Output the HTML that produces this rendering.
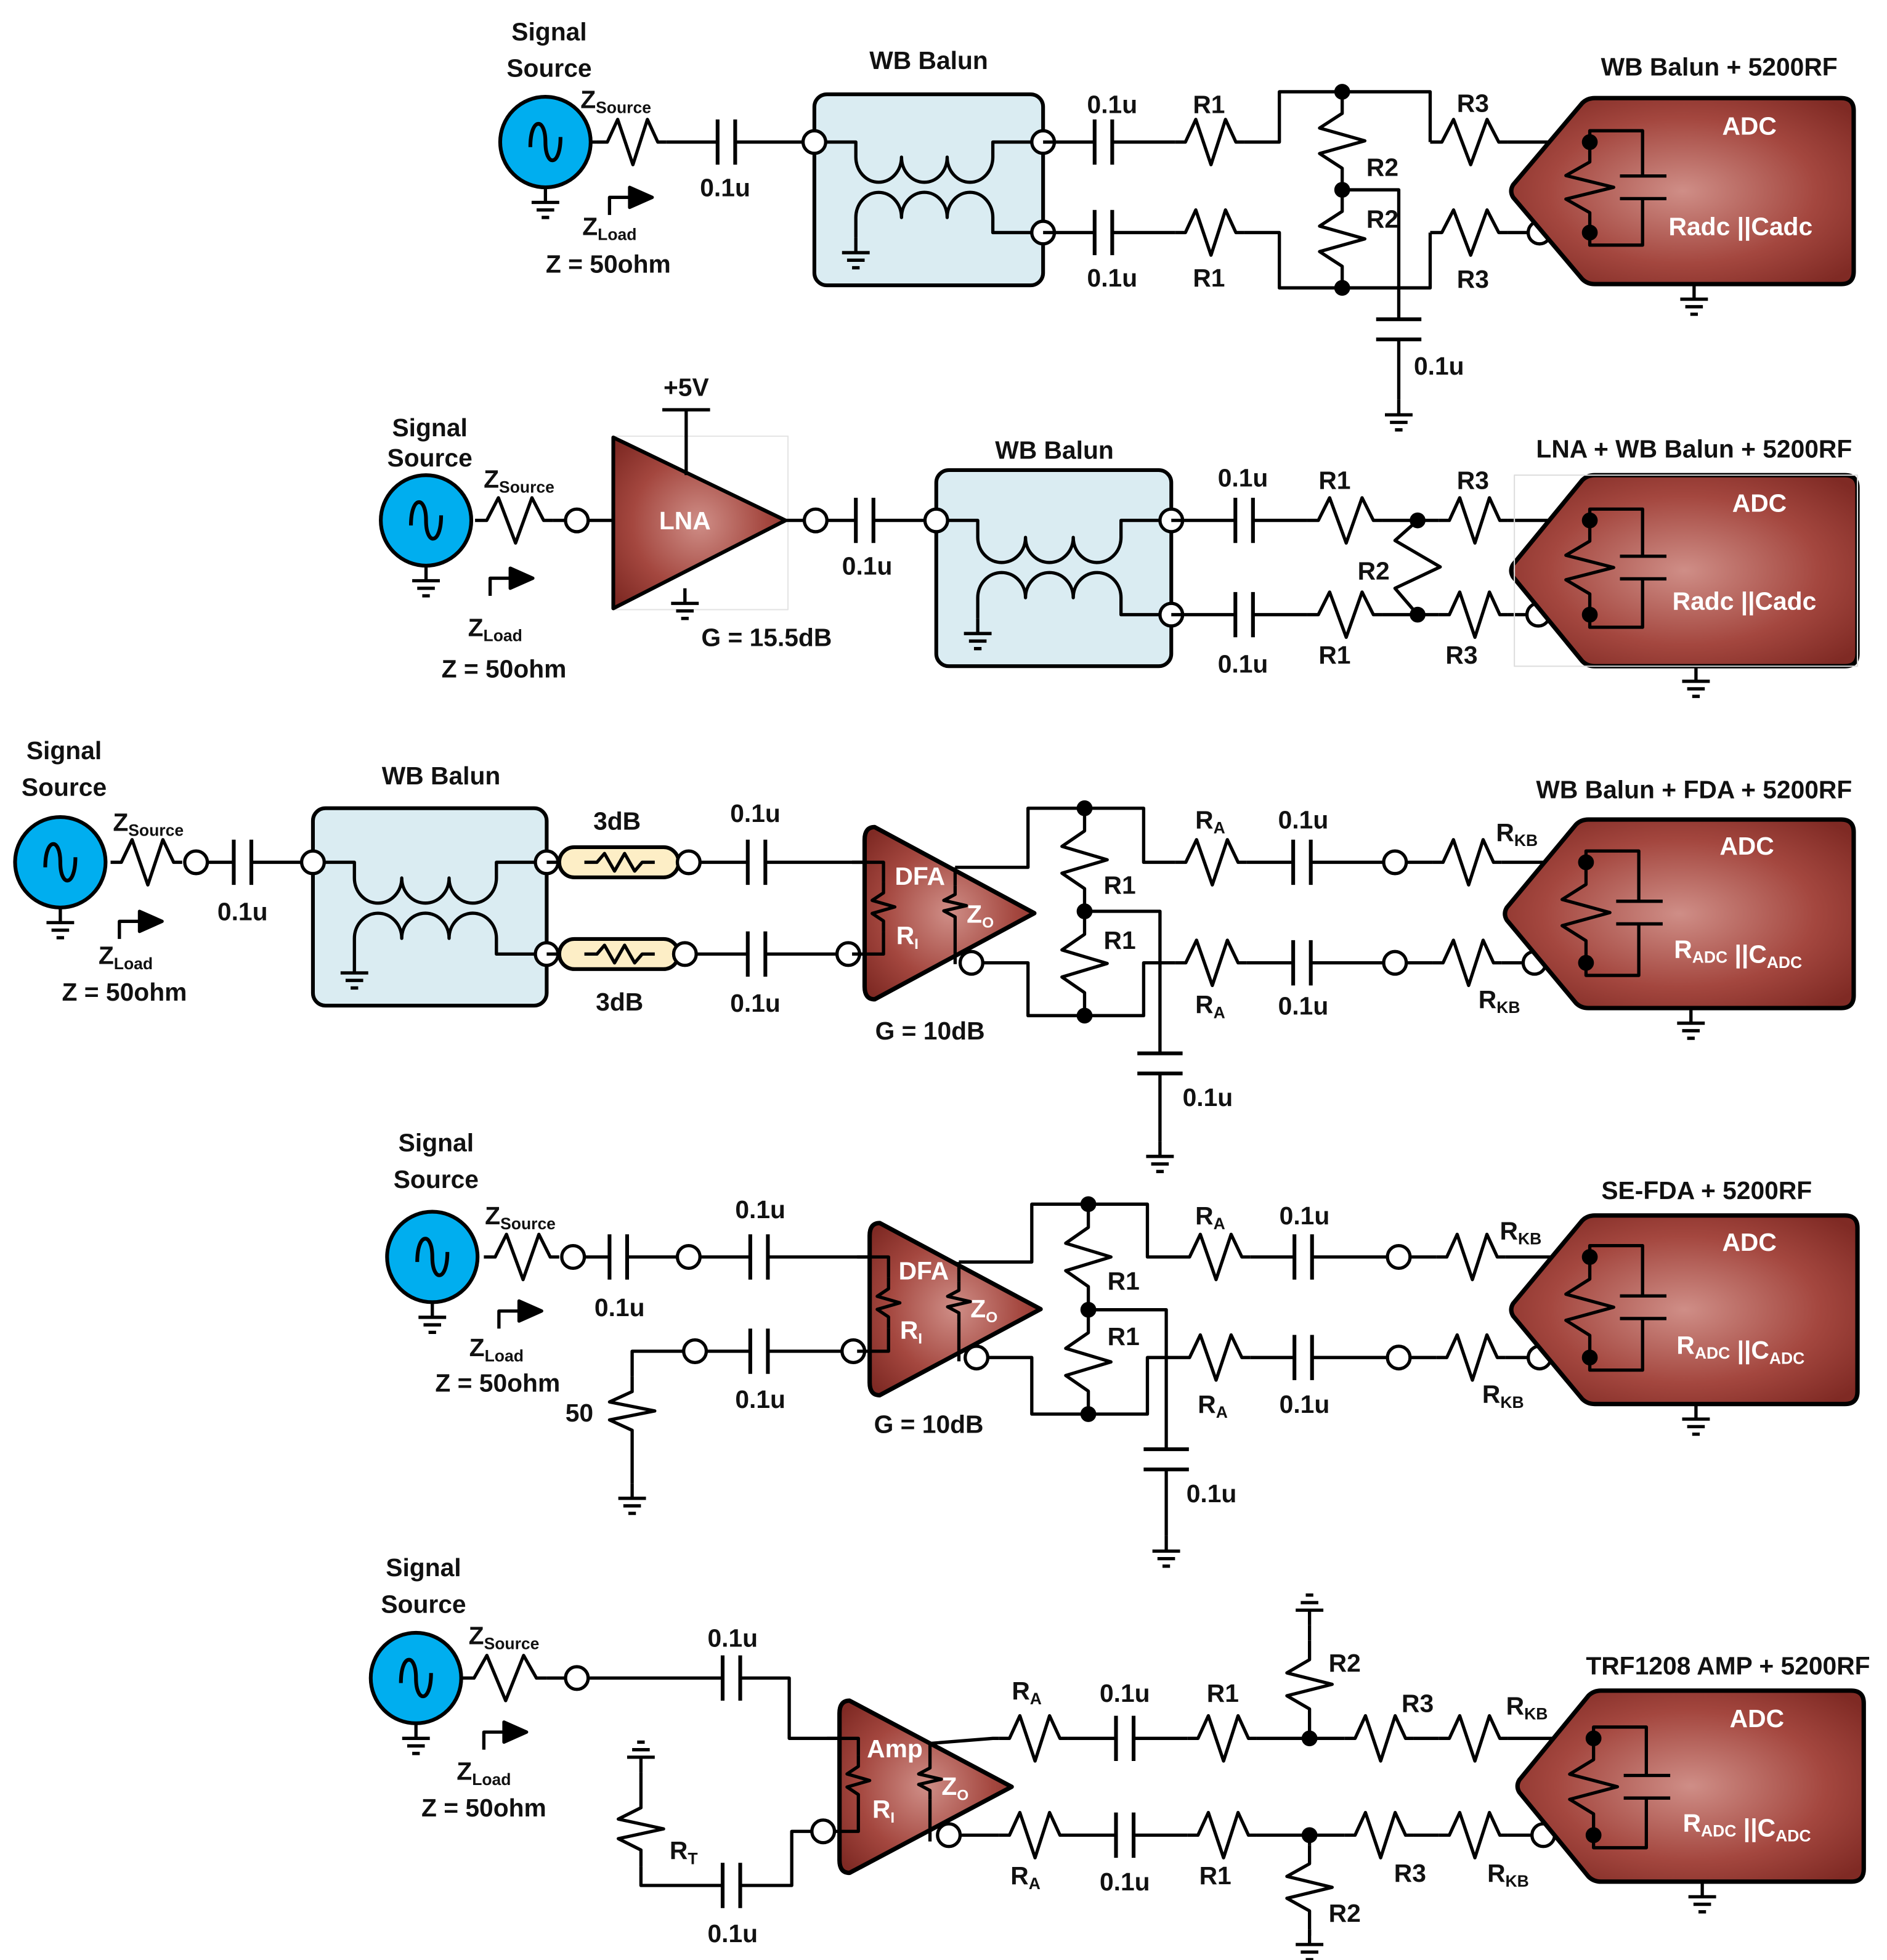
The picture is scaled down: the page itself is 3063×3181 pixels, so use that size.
<!DOCTYPE html>
<html><head><meta charset="utf-8"><style>
html,body{margin:0;padding:0;background:#fff;}
svg{display:block;}
text{font-family:"Liberation Sans",sans-serif;font-weight:bold;font-size:20px;text-anchor:middle;fill:#111;}
text.w{fill:#fff;}
</style></head><body>
<svg id="s" xmlns="http://www.w3.org/2000/svg" width="3063" height="3181" viewBox="0 0 1501.5 1559.3">
<defs>
<radialGradient id="rg" cx="50%" cy="50%" r="65%">
<stop offset="0" stop-color="#cf8e87"/><stop offset="0.6" stop-color="#a4473f"/><stop offset="1" stop-color="#7f2a24"/>
</radialGradient>
</defs>
<g id="g" fill="none" stroke="#000" stroke-width="2.6" stroke-linejoin="round"></g>
<g id="tx">
<!-- Row1 -->
<text x="437" y="32">Signal</text><text x="437" y="61">Source</text>
<text x="490" y="86">Z<tspan font-size="13" dy="4">Source</tspan></text>
<text x="577" y="156">0.1u</text>
<text x="739" y="55">WB Balun</text>
<text x="885" y="90">0.1u</text><text x="885" y="228">0.1u</text>
<text x="962" y="90">R1</text><text x="962" y="228">R1</text>
<text x="1100" y="140">R2</text><text x="1100" y="181">R2</text>
<text x="1172" y="89">R3</text><text x="1172" y="229">R3</text>
<text x="1145" y="298">0.1u</text>
<text x="1368" y="60">WB Balun + 5200RF</text>
<text class="w" x="1392" y="107">ADC</text>
<text class="w" x="1385" y="187">Radc ||Cadc</text>
<text x="485" y="187">Z<tspan font-size="13" dy="4">Load</tspan></text>
<text x="484" y="217">Z = 50ohm</text>
<!-- Row2 -->
<text x="342" y="347">Signal</text><text x="342" y="371">Source</text>
<text x="413" y="388">Z<tspan font-size="13" dy="4">Source</tspan></text>
<text x="546" y="315">+5V</text>
<text class="w" x="545" y="421" font-size="17">LNA</text>
<text x="610" y="514">G = 15.5dB</text>
<text x="690" y="457">0.1u</text>
<text x="839" y="365">WB Balun</text>
<text x="989" y="387">0.1u</text><text x="989" y="535">0.1u</text>
<text x="1062" y="389">R1</text><text x="1062" y="528">R1</text>
<text x="1093" y="461">R2</text>
<text x="1172" y="389">R3</text><text x="1163" y="528">R3</text>
<text x="1348" y="364">LNA + WB Balun + 5200RF</text>
<text class="w" x="1400" y="407">ADC</text>
<text class="w" x="1388" y="485">Radc ||Cadc</text>
<text x="394" y="506">Z<tspan font-size="13" dy="4">Load</tspan></text>
<text x="401" y="539">Z = 50ohm</text>
<!-- Row3 -->
<text x="51" y="604">Signal</text><text x="51" y="633">Source</text>
<text x="118" y="661">Z<tspan font-size="13" dy="4">Source</tspan></text>
<text x="193" y="732">0.1u</text>
<text x="351" y="624">WB Balun</text>
<text x="491" y="660">3dB</text><text x="493" y="804">3dB</text>
<text x="601" y="654">0.1u</text><text x="601" y="805">0.1u</text>
<text class="w" x="732" y="704" font-size="17">DFA</text>
<text class="w" x="780" y="734" font-size="17">Z<tspan font-size="12" dy="4">O</tspan></text>
<text class="w" x="722" y="751" font-size="17">R<tspan font-size="12" dy="4">I</tspan></text>
<text x="740" y="827">G = 10dB</text>
<text x="891" y="711">R1</text><text x="891" y="755">R1</text>
<text x="961" y="880">0.1u</text>
<text x="963" y="659">R<tspan font-size="13" dy="4">A</tspan></text>
<text x="963" y="806">R<tspan font-size="13" dy="4">A</tspan></text>
<text x="1037" y="659">0.1u</text><text x="1037" y="807">0.1u</text>
<text x="1207" y="669">R<tspan font-size="13" dy="4">KB</tspan></text>
<text x="1193" y="802">R<tspan font-size="13" dy="4">KB</tspan></text>
<text x="1348" y="635">WB Balun + FDA + 5200RF</text>
<text class="w" x="1390" y="680">ADC</text>
<text class="w" x="1383" y="762">R<tspan font-size="13" dy="4">ADC</tspan> ||C<tspan font-size="13" dy="4">ADC</tspan></text>
<text x="100" y="767">Z<tspan font-size="13" dy="4">Load</tspan></text>
<text x="99" y="796">Z = 50ohm</text>
<!-- Row4 -->
<text x="347" y="916">Signal</text><text x="347" y="945">Source</text>
<text x="414" y="974">Z<tspan font-size="13" dy="4">Source</tspan></text>
<text x="493" y="1047">0.1u</text>
<text x="605" y="969">0.1u</text><text x="605" y="1120">0.1u</text>
<text x="461" y="1131">50</text>
<text class="w" x="735" y="1018" font-size="17">DFA</text>
<text class="w" x="783" y="1048" font-size="17">Z<tspan font-size="12" dy="4">O</tspan></text>
<text class="w" x="725" y="1065" font-size="17">R<tspan font-size="12" dy="4">I</tspan></text>
<text x="739" y="1140">G = 10dB</text>
<text x="894" y="1026">R1</text><text x="894" y="1070">R1</text>
<text x="964" y="1195">0.1u</text>
<text x="963" y="974">R<tspan font-size="13" dy="4">A</tspan></text>
<text x="965" y="1124">R<tspan font-size="13" dy="4">A</tspan></text>
<text x="1038" y="974">0.1u</text><text x="1038" y="1124">0.1u</text>
<text x="1210" y="986">R<tspan font-size="13" dy="4">KB</tspan></text>
<text x="1196" y="1116">R<tspan font-size="13" dy="4">KB</tspan></text>
<text x="1358" y="954">SE-FDA + 5200RF</text>
<text class="w" x="1392" y="995">ADC</text>
<text class="w" x="1385" y="1077">R<tspan font-size="13" dy="4">ADC</tspan> ||C<tspan font-size="13" dy="4">ADC</tspan></text>
<text x="395" y="1079">Z<tspan font-size="13" dy="4">Load</tspan></text>
<text x="396" y="1107">Z = 50ohm</text>
<!-- Row5 -->
<text x="337" y="1254">Signal</text><text x="337" y="1283">Source</text>
<text x="401" y="1308">Z<tspan font-size="13" dy="4">Source</tspan></text>
<text x="583" y="1310">0.1u</text><text x="583" y="1545">0.1u</text>
<text class="w" x="712" y="1398" font-size="17">Amp</text>
<text class="w" x="760" y="1428" font-size="17">Z<tspan font-size="12" dy="4">O</tspan></text>
<text class="w" x="703" y="1446" font-size="17">R<tspan font-size="12" dy="4">I</tspan></text>
<text x="544" y="1479">R<tspan font-size="13" dy="4">T</tspan></text>
<text x="817" y="1352">R<tspan font-size="13" dy="4">A</tspan></text>
<text x="816" y="1499">R<tspan font-size="13" dy="4">A</tspan></text>
<text x="895" y="1354">0.1u</text><text x="895" y="1504">0.1u</text>
<text x="973" y="1354">R1</text><text x="967" y="1499">R1</text>
<text x="1070" y="1330">R2</text><text x="1070" y="1529">R2</text>
<text x="1128" y="1362">R3</text><text x="1122" y="1497">R3</text>
<text x="1215" y="1364">R<tspan font-size="13" dy="4">KB</tspan></text>
<text x="1200" y="1497">R<tspan font-size="13" dy="4">KB</tspan></text>
<text x="1375" y="1332">TRF1208 AMP + 5200RF</text>
<text class="w" x="1398" y="1374">ADC</text>
<text class="w" x="1390" y="1457">R<tspan font-size="13" dy="4">ADC</tspan> ||C<tspan font-size="13" dy="4">ADC</tspan></text>
<text x="385" y="1416">Z<tspan font-size="13" dy="4">Load</tspan></text>
<text x="385" y="1445">Z = 50ohm</text>
</g>
</svg>
<script>
const NS="http://www.w3.org/2000/svg",G=document.getElementById('g'),S=document.getElementById('s'),TX=document.getElementById('tx');
function el(t,a,p){const e=document.createElementNS(NS,t);for(const k in a)e.setAttribute(k,a[k]);(p||G).appendChild(e);return e;}
function P(d,extra){return el('path',Object.assign({d:d},extra||{}));}
function W(...pts){let d='M'+pts[0][0]+','+pts[0][1];for(let i=1;i<pts.length;i++)d+=' L'+pts[i][0]+','+pts[i][1];P(d);}
const HP=[[0,0],[0.15,0],[0.3,-1],[0.52,1],[0.73,-1],[0.88,0],[1,0]];
const VP=[[0,0],[0,0.22],[-1,0.37],[1,0.5],[-1,0.63],[0,0.78],[0,1]];
function rH(x1,x2,y,a){a=a||18;const w=x2-x1;P('M'+HP.map(p=>`${x1+w*p[0]},${y+a*p[1]}`).join(' L'));}
function rV(x,y1,y2,a){a=a||18;const h=y2-y1;P('M'+VP.map(p=>`${x+a*p[0]},${y1+h*p[1]}`).join(' L'));}
function cH(x,y){P(`M${x-7},${y-18} V${y+18} M${x+7},${y-18} V${y+18}`,{'stroke-width':3});}
function cV(x,y){P(`M${x-18},${y-8} H${x+18} M${x-18},${y+8} H${x+18}`,{'stroke-width':3});}
function nd(x,y){el('circle',{cx:x,cy:y,r:9,fill:'#fff'});}
function dt(x,y){el('circle',{cx:x,cy:y,r:5,fill:'#000'});}
function gnd(x,y){P(`M${x},${y} V${y+12} M${x-11},${y+12} H${x+11} M${x-7},${y+18} H${x+7} M${x-3},${y+24} H${x+3}`);}
function gndU(x,y){P(`M${x},${y} V${y-12} M${x-11},${y-12} H${x+11} M${x-7},${y-18} H${x+7} M${x-3},${y-24} H${x+3}`);}
function src(x,y){el('circle',{cx:x,cy:y,r:36,fill:'#00aeef','stroke-width':3});
 P(`M${x-12},${y+4} C${x-12},${y-20} ${x},${y-20} ${x},${y} C${x},${y+20} ${x+12},${y+20} ${x+12},${y-4}`,{'stroke-width':3});
 gnd(x,y+36);}
function zl(x,y){P(`M${x},${y+14} V${y} H${x+18}`);el('path',{d:`M${x+16},${y-8} L${x+34},${y} L${x+16},${y+8} Z`,fill:'#000'});}
function balun(x,y,w,h,yT,yB){el('rect',{x:x,y:y,width:w,height:h,rx:10,fill:'#daecf2','stroke-width':3});
 const m=(yT+yB)/2,L=x+33,R=x+w-40,hw=(R-L)/6,a=m-24,b=m+24;
 P(`M${x},${yT} H${L} V${a} a${hw},20 0 0 0 ${2*hw},0 a${hw},20 0 0 0 ${2*hw},0 a${hw},20 0 0 0 ${2*hw},0 V${yT} H${x+w}`);
 P(`M${x+w},${yB} H${R} V${b} a${hw},20 0 0 0 ${-2*hw},0 a${hw},20 0 0 0 ${-2*hw},0 a${hw},20 0 0 0 ${-2*hw},0 V${y+h-38}`);
 gnd(L,y+h-38);nd(x,yT);nd(x+w,yT);nd(x+w,yB);}
function adc(tx,yt,yb,xr,il,y1,y2){const m=(yt+yb)/2;tx-=4;
 el('path',{d:`M${tx+3},${m-5} L${tx+58},${yt+4} Q${tx+62},${yt} ${tx+68},${yt} H${xr-10} Q${xr},${yt} ${xr},${yt+10} V${yb-10} Q${xr},${yb} ${xr-10},${yb} H${tx+68} Q${tx+62},${yb} ${tx+58},${yb-4} L${tx+3},${m+5} Q${tx},${m} ${tx+3},${m-5} Z`,fill:'url(#rg)','stroke-width':3.5},G);
 const cy=(y1+y2)/2;rV(il,y1,y2,19);
 P(`M${il},${y1} V${y1-9} H${il+42} V${cy-9} M${il+24},${cy-9} H${il+61} M${il+24},${cy+9} H${il+61} M${il+42},${cy+9} V${y2+10} H${il} V${y2}`,{});
 dt(il,y1);dt(il,y2);gnd((tx+xr)/2+10,yb);}
function amp(x,yt,yb,xt,rx1,rx2,y1,y2){const m=(yt+yb)/2;
 el('path',{d:`M${x+8},${yt} L${xt},${m} L${x+8},${yb} Q${x},${yb} ${x},${yb-10} V${yt+10} Q${x},${yt} ${x+8},${yt} Z`,fill:'url(#rg)','stroke-width':3.5});
 if(rx1){P(`M${x-10},${y1} H${rx1} V${m-25}`);rV(rx1,m-25,m+15,9);P(`M${rx1},${m+15} V${y2} H${x-10}`);
 P(`M${rx2},${y1+4} V${m-22}`);rV(rx2,m-22,m+10,9);P(`M${rx2},${m+10} V${y2+8}`);}}
// ---- Row 1
src(434,113);W([470,113],[475,113]);rH(475,530,113);W([530,113],[571,113]);cH(578,113);W([585,113],[648,113]);
balun(648,75,182,152,113,185);
W([830,113],[871,113]);cH(878,113);W([885,113],[935,113]);rH(935,990,113);W([990,113],[1018,113],[1018,73],[1138,73],[1138,113]);rH(1138,1200,113);W([1200,113],[1265,113]);
W([830,185],[871,185]);cH(878,185);W([885,185],[935,185]);rH(935,990,185);W([990,185],[1018,185],[1018,229],[1138,229],[1138,185]);rH(1138,1200,185);W([1200,185],[1265,185]);
rV(1068,73,151);rV(1068,151,229);dt(1068,73);dt(1068,229);dt(1068,151);
W([1068,151],[1113,151],[1113,254]);cV(1113,262);W([1113,270],[1113,318]);gnd(1113,318);
nd(1225,185);adc(1205,78,226,1475,1265,113,185);
zl(485,157);
// ---- Row 2
src(339,414);rH(378,440,414);W([440,414],[450,414]);nd(459,414);W([468,414],[488,414]);
el('rect',{x:488,y:347,width:139,height:138,fill:'none',stroke:'#e4e4e4','stroke-width':1});
el('path',{d:`M488,348 L625,414 L488,484 Z`,fill:'url(#rg)','stroke-width':3});
P('M527,326 H565 M546,326 V378');gnd(545,468);
W([625,414],[649,414]);nd(649,414);W([658,414],[681,414]);cH(688,414);W([695,414],[745,414]);
balun(745,374,187,156,414,489);
W([932,414],[983,414]);cH(990,414);W([997,414],[1040,414]);rH(1040,1100,414);W([1100,414],[1145,414]);rH(1145,1200,414);W([1200,414],[1265,414]);
W([932,489],[983,489]);cH(990,489);W([997,489],[1040,489]);rH(1040,1100,489);W([1100,489],[1145,489]);rH(1145,1200,489);W([1200,489],[1265,489]);
dt(1128,414);dt(1128,489);P('M1128,414 L1110,430 L1146,451 L1110,468 L1128,489');
nd(1224,489);adc(1205,378,530,1478,1265,414,489);
el('rect',{x:1205,y:378,width:273,height:152,fill:'none',stroke:'#ddd','stroke-width':1});
zl(390,460);
// ---- Row 3
src(48,686);rH(88,145,686);nd(156,686);W([165,686],[186,686]);cH(193,686);W([200,686],[249,686]);
balun(249,643,186,157,686,759);
function att(x,y){el('rect',{x:x,y:y-12,width:95,height:24,rx:12,fill:'#fdeec6','stroke-width':3});P(`M${x+20},${y} H${x+30} L${x+36},${y-7} L${x+44},${y+7} L${x+52},${y-7} L${x+60},${y+7} L${x+66},${y} H${x+76}`);}
W([435,686],[445,686]);att(445,686);W([435,759],[445,759]);att(445,759);
nd(548,686);nd(545,759);W([557,686],[595,686]);cH(602,686);W([609,686],[688,686]);
W([554,759],[595,759]);cH(602,759);W([609,759],[666,759]);nd(675,759);
amp(688,658,795,823,703,760,686,759);
W([760,690],[818,690],[818,643],[910,643],[910,686],[935,686]);
nd(773,766);W([782,766],[818,766],[818,808],[910,808],[910,766],[935,766]);
rV(863,643,725);rV(863,725,808);dt(863,643);dt(863,808);dt(863,725);
W([863,725],[923,725],[923,838]);cV(923,846);W([923,854],[923,908]);gnd(923,908);
rH(935,992,686);W([992,686],[1029,686]);cH(1036,686);W([1043,686],[1101,686]);nd(1110,686);W([1119,686],[1140,686]);rH(1140,1195,686);W([1195,686],[1262,686]);
rH(935,992,766);W([992,766],[1029,766]);cH(1036,766);W([1043,766],[1101,766]);nd(1110,766);W([1119,766],[1140,766]);rH(1140,1195,766);W([1195,766],[1212,766]);nd(1221,766);W([1230,766],[1262,766]);
adc(1200,652,802,1475,1262,686,766);
zl(95,733);
// ---- Row 4
src(344,1000);rH(385,445,1000);nd(456,1000);W([465,1000],[485,1000]);cH(492,1000);W([499,1000],[539,1000]);nd(548,1000);
W([557,1000],[597,1000]);cH(604,1000);W([611,1000],[692,1000]);
W([562,1075],[597,1075]);cH(604,1075);W([611,1075],[670,1075]);nd(679,1075);nd(553,1075);W([544,1075],[503,1075],[503,1095]);rV(503,1095,1150);W([503,1150],[503,1180]);gnd(503,1180);
amp(692,973,1110,828,707,763,1000,1075);
W([763,1004],[821,1004],[821,958],[913,958],[913,1000],[938,1000]);
nd(777,1080);W([786,1080],[821,1080],[821,1125],[913,1125],[913,1080],[938,1080]);
rV(866,958,1042);rV(866,1042,1125);dt(866,958);dt(866,1125);dt(866,1042);
W([866,1042],[928,1042],[928,1153]);cV(928,1161);W([928,1169],[928,1222]);gnd(928,1222);
rH(938,995,1000);W([995,1000],[1030,1000]);cH(1037,1000);W([1044,1000],[1104,1000]);nd(1113,1000);W([1122,1000],[1143,1000]);rH(1143,1198,1000);W([1198,1000],[1265,1000]);
rH(938,995,1080);W([995,1080],[1030,1080]);cH(1037,1080);W([1044,1080],[1104,1080]);nd(1113,1080);W([1122,1080],[1143,1080]);rH(1143,1198,1080);W([1198,1080],[1216,1080]);nd(1225,1080);W([1234,1080],[1265,1080]);
adc(1205,967,1117,1478,1265,1000,1080);
zl(397,1043);
// ---- Row 5
src(331,1335);rH(367,435,1335);W([435,1335],[450,1335]);nd(459,1335);W([468,1335],[575,1335]);cH(582,1335);W([589,1335],[628,1335],[628,1383],[668,1383]);
amp(668,1353,1490,805,683,740,1383,1457);
nd(655,1457);W([646,1457],[630,1457],[630,1500],[589,1500]);cH(582,1500);W([575,1500],[510,1500],[510,1485]);rV(510,1425,1485);W([510,1425],[510,1410]);gndU(510,1410);
W([740,1387],[790,1383],[795,1383]);
rH(795,850,1383);W([850,1383],[888,1383]);cH(895,1383);W([902,1383],[945,1383]);rH(945,1000,1383);W([1000,1383],[1070,1383]);rH(1070,1125,1383);W([1125,1383],[1145,1383]);rH(1145,1200,1383);W([1200,1383],[1268,1383]);
dt(1042,1383);rV(1042,1305,1375);W([1042,1375],[1042,1383]);W([1042,1305],[1042,1293]);gndU(1042,1293);
nd(755,1460);W([764,1460],[795,1460]);rH(795,850,1460);W([850,1460],[888,1460]);cH(895,1460);W([902,1460],[945,1460]);rH(945,1000,1460);W([1000,1460],[1070,1460]);rH(1070,1125,1460);W([1125,1460],[1145,1460]);rH(1145,1200,1460);W([1200,1460],[1219,1460]);nd(1228,1460);W([1237,1460],[1268,1460]);
dt(1042,1460);rV(1042,1468,1535);W([1042,1460],[1042,1468]);W([1042,1535],[1042,1540]);gnd(1042,1535);
adc(1210,1345,1497,1483,1268,1383,1460);
zl(385,1378);
S.appendChild(TX);
</script>
</body></html>
